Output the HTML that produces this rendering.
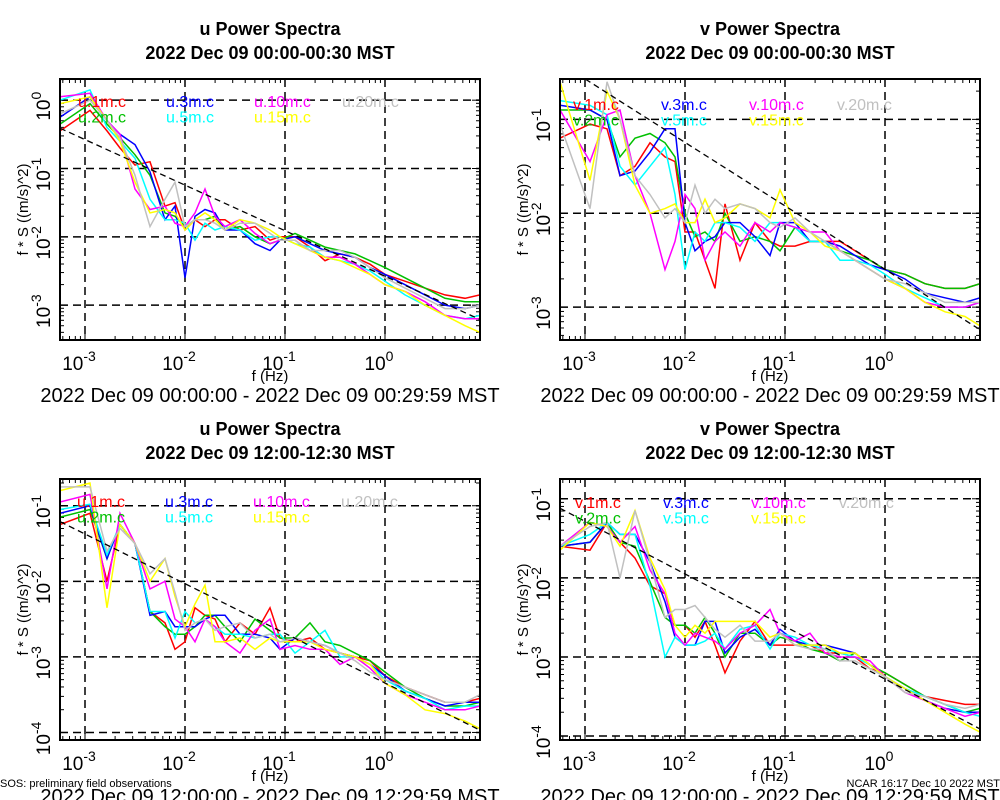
<!DOCTYPE html>
<html><head><meta charset="utf-8"><style>
html,body{margin:0;padding:0;background:#fff;}
svg{display:block;font-family:"Liberation Sans",sans-serif;}
</style></head><body>
<svg id="chart" width="1000" height="800" xmlns="http://www.w3.org/2000/svg"></svg>
<script>
// frequency categories, log10(f / Hz)
const freqLog = [-3.25,-2.95,-2.78,-2.65,-2.5,-2.35,-2.2,-2.1,-2.0,-1.9,-1.8,-1.7,-1.6,-1.45,-1.3,-1.15,-1.05,-0.9,-0.75,-0.6,-0.45,-0.3,-0.15,0.0,0.2,0.4,0.6,0.8,0.95];
const seriesNames = ["1m","2m","3m","5m","10m","15m","20m"];
// values are log10(f*S)
// top-left: u 00:00
const tlRed    = [-0.45,-0.15,-0.45,-0.7,-0.95,-0.9,-1.55,-1.5,-1.9,-1.75,-1.85,-1.75,-1.75,-1.9,-1.85,-2.05,-2.0,-2.0,-2.15,-2.35,-2.25,-2.3,-2.4,-2.55,-2.65,-2.75,-2.85,-2.9,-2.85];
const tlGreen  = [-0.35,-0.05,-0.35,-0.55,-0.8,-1.1,-1.65,-1.7,-1.85,-1.75,-1.75,-1.7,-1.9,-1.85,-2.0,-2.1,-2.05,-1.95,-2.05,-2.15,-2.2,-2.25,-2.35,-2.45,-2.6,-2.75,-2.9,-2.95,-2.95];
const tlBlue   = [-0.25,0.05,-0.3,-0.5,-0.65,-1.05,-1.75,-1.55,-2.6,-1.7,-1.6,-1.65,-1.9,-1.9,-2.1,-2.2,-2.05,-2.0,-2.1,-2.2,-2.25,-2.3,-2.45,-2.55,-2.7,-2.85,-3.0,-3.05,-3.0];
const tlCyan   = [0.0,0.15,-0.4,-0.6,-0.85,-1.45,-1.75,-1.75,-1.8,-2.05,-1.8,-1.9,-1.85,-1.9,-2.05,-2.0,-2.0,-2.1,-2.15,-2.3,-2.35,-2.4,-2.5,-2.65,-2.85,-3.0,-3.15,-3.2,-3.15];
const tlMagenta= [0.05,0.1,-0.3,-0.5,-1.3,-1.6,-1.55,-1.8,-1.85,-1.65,-1.3,-1.7,-1.85,-1.75,-1.95,-2.1,-2.05,-2.05,-2.2,-2.3,-2.3,-2.4,-2.55,-2.7,-2.8,-2.95,-3.15,-3.2,-3.2];
const tlYellow = [-0.05,0.05,-0.3,-0.6,-1.2,-1.65,-1.6,-1.65,-1.9,-1.75,-1.65,-1.75,-1.9,-1.75,-1.8,-1.9,-2.0,-2.1,-2.2,-2.3,-2.35,-2.45,-2.55,-2.7,-2.8,-3.0,-3.15,-3.3,-3.4];
const tlGray   = [-0.2,0.0,-0.3,-0.55,-1.1,-1.85,-1.45,-1.2,-1.85,-1.75,-1.75,-1.8,-1.9,-1.8,-1.8,-1.95,-2.05,-2.05,-2.2,-2.2,-2.2,-2.3,-2.45,-2.6,-2.75,-2.9,-3.05,-3.05,-3.0];
// top-right: v 00:00
const trRed    = [-1.2,-1.05,-1.1,-1.6,-1.5,-1.25,-1.4,-1.45,-2.2,-2.2,-2.5,-2.8,-1.9,-2.5,-2.1,-2.3,-2.35,-2.35,-2.3,-2.3,-2.3,-2.4,-2.5,-2.6,-2.65,-2.75,-2.8,-2.8,-2.75];
const trGreen  = [-0.9,-0.9,-1.0,-1.4,-1.2,-1.15,-1.25,-1.4,-2.0,-2.25,-2.2,-2.3,-2.0,-2.3,-2.25,-2.3,-2.4,-2.15,-2.3,-2.3,-2.4,-2.45,-2.5,-2.6,-2.65,-2.75,-2.8,-2.8,-2.75];
const trBlue   = [-0.85,-0.9,-1.0,-1.6,-1.55,-1.35,-1.1,-1.1,-2.1,-2.4,-2.3,-2.25,-2.1,-2.1,-2.25,-2.45,-2.1,-2.1,-2.3,-2.3,-2.35,-2.45,-2.55,-2.6,-2.7,-2.85,-2.9,-2.95,-2.9];
const trCyan   = [-0.8,-0.85,-0.95,-1.5,-1.7,-1.5,-1.3,-1.8,-2.6,-2.2,-2.3,-2.1,-2.1,-2.15,-2.3,-2.1,-2.1,-2.15,-2.3,-2.3,-2.5,-2.5,-2.55,-2.65,-2.8,-2.9,-3.0,-3.0,-2.95];
const trMagenta= [-0.9,-1.45,-0.95,-0.9,-1.6,-2.0,-2.6,-2.3,-1.8,-1.95,-2.5,-2.3,-2.2,-2.35,-2.1,-2.2,-2.1,-2.15,-2.2,-2.2,-2.4,-2.5,-2.6,-2.7,-2.8,-2.95,-3.0,-3.0,-2.95];
const trYellow = [-0.6,-1.65,-0.7,-1.0,-1.7,-2.0,-1.95,-1.9,-2.1,-2.1,-1.85,-2.1,-2.05,-1.9,-1.95,-2.05,-1.75,-2.1,-2.2,-2.35,-2.4,-2.5,-2.6,-2.7,-2.8,-2.95,-3.05,-3.1,-3.2];
const trGray   = [-1.05,-1.95,-0.6,-1.0,-1.6,-1.8,-2.05,-1.95,-2.1,-1.7,-2.0,-1.85,-1.95,-1.9,-1.95,-2.1,-2.15,-2.05,-2.2,-2.3,-2.4,-2.5,-2.6,-2.7,-2.75,-2.85,-2.95,-2.95,-2.95];
// bottom-left: u 12:00
const blRed    = [-1.25,-1.1,-2.0,-1.25,-1.5,-2.4,-2.55,-2.9,-2.8,-2.35,-2.45,-2.5,-2.8,-2.55,-2.7,-2.35,-2.75,-2.8,-2.75,-2.9,-2.95,-3.0,-3.05,-3.25,-3.4,-3.5,-3.6,-3.6,-3.55];
const blGreen  = [-1.15,-1.05,-1.7,-1.25,-1.5,-2.4,-2.6,-2.7,-2.7,-2.6,-2.45,-2.45,-2.6,-2.8,-2.5,-2.65,-2.75,-2.75,-2.55,-2.8,-2.85,-2.95,-3.05,-3.2,-3.4,-3.55,-3.65,-3.65,-3.6];
const blBlue   = [-1.1,-1.0,-1.7,-1.25,-1.5,-2.45,-2.4,-2.6,-2.6,-2.6,-2.5,-2.45,-2.45,-2.7,-2.7,-2.75,-2.9,-2.75,-2.8,-2.85,-2.95,-3.0,-3.1,-3.25,-3.45,-3.55,-3.65,-3.6,-3.6];
const blCyan   = [-1.05,-0.98,-1.65,-1.25,-1.5,-2.4,-2.4,-2.75,-2.4,-2.55,-2.5,-2.6,-2.7,-2.7,-2.75,-2.7,-2.7,-2.95,-2.8,-2.65,-3.0,-3.0,-3.1,-3.3,-3.45,-3.55,-3.7,-3.65,-3.65];
const blMagenta= [-0.95,-0.85,-2.1,-1.1,-1.5,-2.1,-2.0,-2.5,-2.6,-2.8,-2.5,-2.6,-2.8,-2.95,-2.65,-2.5,-2.9,-2.85,-2.9,-2.9,-3.1,-3.0,-3.15,-3.35,-3.5,-3.6,-3.7,-3.7,-3.65];
const blYellow = [-0.8,-0.7,-2.35,-1.25,-1.5,-2.0,-1.7,-2.2,-2.6,-2.3,-2.05,-2.8,-2.8,-2.75,-2.9,-2.75,-2.8,-2.8,-2.8,-2.9,-2.95,-3.0,-3.1,-3.35,-3.5,-3.7,-3.75,-3.85,-3.95];
const blGray   = [-0.75,-0.75,-1.6,-1.3,-1.5,-1.9,-1.7,-2.15,-2.65,-2.55,-2.5,-2.65,-2.6,-2.55,-2.75,-2.7,-2.8,-2.75,-2.8,-2.85,-2.95,-3.05,-3.2,-3.3,-3.4,-3.5,-3.6,-3.6,-3.5];
// bottom-right: v 12:00
const brRed    = [-1.6,-1.65,-1.3,-1.55,-1.75,-2.1,-2.2,-2.6,-2.6,-2.75,-2.55,-2.85,-3.2,-2.8,-2.55,-2.85,-2.85,-2.85,-2.85,-2.95,-2.95,-3.0,-3.15,-3.2,-3.35,-3.5,-3.55,-3.6,-3.6];
const brGreen  = [-1.6,-1.55,-1.3,-1.55,-1.6,-2.05,-2.5,-2.6,-2.6,-2.7,-2.5,-2.7,-3.0,-2.7,-2.7,-2.85,-2.75,-2.8,-2.9,-2.95,-3.05,-2.95,-3.1,-3.2,-3.35,-3.5,-3.6,-3.7,-3.65];
const brBlue   = [-1.6,-1.55,-1.3,-1.45,-1.45,-1.8,-2.3,-2.75,-2.85,-2.85,-2.55,-2.55,-2.95,-2.75,-2.65,-2.85,-2.65,-2.8,-2.85,-2.85,-2.9,-2.95,-3.1,-3.25,-3.4,-3.55,-3.65,-3.7,-3.7];
const brCyan   = [-1.6,-1.45,-1.3,-1.45,-1.45,-2.1,-3.0,-2.75,-2.85,-2.85,-2.8,-2.7,-2.9,-2.65,-2.6,-2.9,-2.7,-2.75,-2.85,-2.9,-2.95,-3.0,-3.1,-3.25,-3.4,-3.5,-3.6,-3.7,-3.75];
const brMagenta= [-1.6,-1.3,-1.35,-1.55,-1.35,-1.9,-2.2,-2.7,-2.85,-2.7,-2.75,-2.8,-2.9,-2.7,-2.6,-2.4,-2.7,-2.8,-2.7,-2.95,-3.0,-3.0,-3.05,-3.25,-3.45,-3.55,-3.65,-3.75,-3.7];
const brYellow = [-1.65,-1.3,-1.35,-1.6,-1.15,-1.75,-2.15,-2.6,-2.75,-2.6,-2.7,-2.55,-2.55,-2.55,-2.55,-2.75,-2.7,-2.85,-2.85,-2.85,-2.95,-2.95,-3.1,-3.25,-3.4,-3.55,-3.7,-3.85,-3.95];
const brGray   = [-1.6,-1.35,-1.3,-2.0,-1.15,-1.8,-2.5,-2.4,-2.4,-2.35,-2.5,-2.65,-2.75,-2.6,-2.8,-2.8,-2.7,-2.85,-2.9,-2.9,-3.05,-3.05,-3.15,-3.25,-3.45,-3.5,-3.6,-3.65,-3.6];
// -2/3 reference line endpoints: [log10 f, log10 value]
const tlRefLine = [[-3.25,-0.41],[0.95,-3.21]];
const trRefLine = [[-3.25,-0.4],[0.95,-3.24]];
const blRefLine = [[-3.25,-1.21],[0.95,-3.97]];
const brRefLine = [[-3.25,-1.12],[0.95,-3.91]];
const xTickExps = [-3,-2,-1,0];

const colors = ["#ff0000","#00c000","#0000ff","#00ffff","#ff00ff","#ffff00","#c0c0c0"];
const panels = [
 {id:"tl", comp:"u", title2:"2022 Dec 09 00:00-00:30 MST", range:"2022 Dec 09 00:00:00 - 2022 Dec 09 00:29:59 MST",
  x0:60,x1:480,y0:79,y1:340, ymax:0.31, ymin:-3.51, yticks:[0,-1,-2,-3],
  data:[tlRed,tlGreen,tlBlue,tlCyan,tlMagenta,tlYellow,tlGray], ref:tlRefLine, legY:107, legX:78, title:"u Power Spectra", dateY:402},
 {id:"tr", comp:"v", title2:"2022 Dec 09 00:00-00:30 MST", range:"2022 Dec 09 00:00:00 - 2022 Dec 09 00:29:59 MST",
  x0:560,x1:980,y0:79,y1:340, ymax:-0.57, ymin:-3.35, yticks:[-1,-2,-3],
  data:[trRed,trGreen,trBlue,trCyan,trMagenta,trYellow,trGray], ref:trRefLine, legY:110, legX:573, title:"v Power Spectra", dateY:402},
 {id:"bl", comp:"u", title2:"2022 Dec 09 12:00-12:30 MST", range:"2022 Dec 09 12:00:00 - 2022 Dec 09 12:29:59 MST",
  x0:60,x1:480,y0:479,y1:740, ymax:-0.646, ymin:-4.10, yticks:[-1,-2,-3,-4],
  data:[blRed,blGreen,blBlue,blCyan,blMagenta,blYellow,blGray], ref:blRefLine, legY:507, legX:77, title:"u Power Spectra", dateY:803},
 {id:"br", comp:"v", title2:"2022 Dec 09 12:00-12:30 MST", range:"2022 Dec 09 12:00:00 - 2022 Dec 09 12:29:59 MST",
  x0:560,x1:980,y0:479,y1:740, ymax:-0.75, ymin:-4.05, yticks:[-1,-2,-3,-4],
  data:[brRed,brGreen,brBlue,brCyan,brMagenta,brYellow,brGray], ref:brRefLine, legY:508, legX:575, title:"v Power Spectra", dateY:803}
];
const XMIN=-3.25, XMAX=0.95;
const svg=document.getElementById('chart');
const NS="http://www.w3.org/2000/svg";
function mk(tag,attrs,parent){const e=document.createElementNS(NS,tag);for(const k in attrs)e.setAttribute(k,attrs[k]);(parent||svg).appendChild(e);return e;}

panels.forEach(p=>{
  const g=mk('g',{});
  
  
  const xs=v=>p.x0+(v-XMIN)/(XMAX-XMIN)*(p.x1-p.x0);
  const ys=v=>p.y0+(p.ymax-v)/(p.ymax-p.ymin)*(p.y1-p.y0);
  const tcx=p.x0<500?270:770;
  let t=mk('text',{x:tcx,y:p.y0-44,'text-anchor':'middle','font-size':'18','font-weight':'bold'},g);
  t.textContent=p.title;
  
  
  t=mk('text',{x:tcx,y:p.y0-20,'text-anchor':'middle','font-size':'18','font-weight':'bold'},g);
  t.textContent=p.title2;
  
  
  const cp=mk('clipPath',{id:'clip-'+p.id},g);
  mk('rect',{x:p.x0,y:p.y0,width:p.x1-p.x0,height:p.y1-p.y0},cp);
  xTickExps.forEach(e=>{
    const l=mk('line',{x1:xs(e),x2:xs(e),y1:p.y0,y2:p.y1,stroke:'#000','stroke-width':1.5,'stroke-dasharray':'8,5'},g);
    
    
  });
  p.yticks.forEach(e=>{
    const l=mk('line',{x1:p.x0,x2:p.x1,y1:ys(e),y2:ys(e),stroke:'#000','stroke-width':1.5,'stroke-dasharray':'8,5'},g);
    
    
  });
  for(let d=-4;d<=1;d++){for(let m=1;m<=9;m++){const lv=d+Math.log10(m);
    if(lv>XMIN&&lv<XMAX){const L=m===1?8:4;mk('line',{x1:xs(lv),x2:xs(lv),y1:p.y1,y2:p.y1-L,stroke:'#000'},g);mk('line',{x1:xs(lv),x2:xs(lv),y1:p.y0,y2:p.y0+L,stroke:'#000'},g);}
    if(lv<p.ymax&&lv>p.ymin){const L=m===1?8:4;mk('line',{x1:p.x0,x2:p.x0+L,y1:ys(lv),y2:ys(lv),stroke:'#000'},g);mk('line',{x1:p.x1,x2:p.x1-L,y1:ys(lv),y2:ys(lv),stroke:'#000'},g);}
  }}
  const sg=mk('g',{'clip-path':'url(#clip-'+p.id+')'},g);
  p.data.forEach((arr,i)=>{
    const pts=arr.map((v,j)=>xs(freqLog[j]).toFixed(1)+','+ys(v).toFixed(1)).join(' ');
    const pl=mk('polyline',{points:pts,fill:'none',stroke:colors[i],'stroke-width':1.5},sg);
    
    
  });
  const rl=mk('line',{x1:xs(p.ref[0][0]),y1:ys(p.ref[0][1]),x2:xs(p.ref[1][0]),y2:ys(p.ref[1][1]),stroke:'#000','stroke-width':1.3,'stroke-dasharray':'6,4'},sg);
  
  
  const legOrder=[[0,0,0],[2,1,0],[4,2,0],[6,3,0],[1,0,1],[3,1,1],[5,2,1]];
  legOrder.forEach(([si,col,row])=>{
    const lt=mk('text',{x:p.legX+col*88,y:p.legY+row*15.5,'font-size':'16',fill:colors[si]},g);
    lt.textContent=p.comp+'.'+seriesNames[si]+'.c';
    
    
  });
  const fr=mk('rect',{x:p.x0,y:p.y0,width:p.x1-p.x0,height:p.y1-p.y0,fill:'none',stroke:'#000','stroke-width':2},g);
  
  
  xTickExps.forEach(e=>{
    const xt=mk('text',{x:xs(e)-6,y:p.y1+30,'text-anchor':'middle','font-size':'19'},g);
    xt.innerHTML='10<tspan font-size="14" dy="-9">'+e+'</tspan>';
    
    
  });
  p.yticks.forEach(e=>{
    const yy=ys(e)+6;
    const yt=mk('text',{transform:'translate('+(p.x0-10)+','+yy+') rotate(-90)','text-anchor':'middle','font-size':'19'},g);
    yt.innerHTML='10<tspan font-size="14" dy="-9">'+e+'</tspan>';
    
    
  });
  let at=mk('text',{x:p.x0+210,y:p.y1+41,'text-anchor':'middle','font-size':'15'},g);
  at.textContent='f (Hz)';
  
  
  at=mk('text',{transform:'translate('+(p.x0-32)+','+((p.y0+p.y1)/2)+') rotate(-90)','text-anchor':'middle','font-size':'15'},g);
  at.textContent='f * S ((m/s)^2)';
  
  
  at=mk('text',{x:tcx,y:p.dateY,'text-anchor':'middle','font-size':'20'},g);
  at.textContent=p.range;
  
  
});
let ft=mk('text',{x:0,y:787,'font-size':'11'});
ft.textContent='SOS: preliminary field observations';


ft=mk('text',{x:1000,y:787,'font-size':'11','text-anchor':'end'});
ft.textContent='NCAR 16:17 Dec 10 2022 MST';


</script>
</body></html>
